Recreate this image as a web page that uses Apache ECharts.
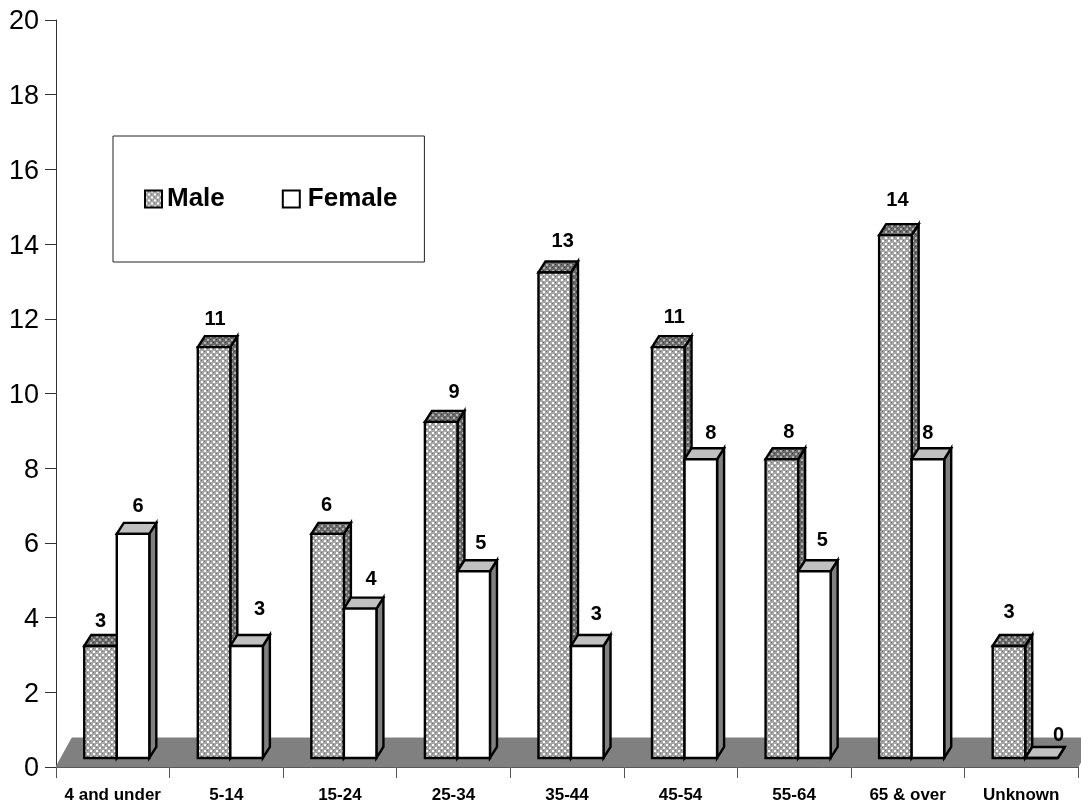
<!DOCTYPE html>
<html><head><meta charset="utf-8">
<style>html,body{margin:0;padding:0;background:#fff}#c{width:1081px;height:804px}</style>
<script src="https://cdn.jsdelivr.net/npm/echarts@6/dist/echarts.min.js"></script>
</head><body><div id="c"></div>
<script>
const categories = ['4 and under','5-14','15-24','25-34','35-44','45-54','55-64','65 & over','Unknown'];
const male   = [3,11,6,9,13,11,8,14,3];
const female = [6,3,4,5,3,8,5,8,0];
const yTickMax = 20, yTickStep = 2;
// hand-placed value-label nudges seen in the picture (px)
const maleNudgeX   = [0,1,-1,13,8,6,7,2,0];
const femaleNudgeX = [5,13,11,7,9,10,8,0,17];
const maleLift     = [24,28,28,29,31,30,27,35,33];
const femaleLift   = [27,36,29,28,31,26,31,26,23];

function tile(bg, dot, shade){
  const c=document.createElement('canvas');c.width=6;c.height=6;
  const g=c.getContext('2d');g.fillStyle=bg;g.fillRect(0,0,6,6);
  g.fillStyle=shade;
  [[3,0],[0,3]].forEach(p=>g.fillRect(p[0],p[1],1,1));
  g.fillStyle=dot;
  [[0,0],[3,3]].forEach(p=>{g.fillRect(p[0],p[1],2,2);});
  return c;
}
const patFront={image:tile('#a6a6a6','#ffffff','#6e6e6e'),repeat:'repeat'};
const patDark ={image:tile('#6a6a6a','#b4b4b4','#3a3a3a'),repeat:'repeat'};

const DX=7, DY=11, LIFT=9, SHIFT=4, BARFRAC=0.2865;
function barRenderer(isMale){
  return function(params,api){
    const i=api.value(0), v=api.value(1);
    const top=api.coord([i,v]), base=api.coord([i,0]), band=api.size([1,0])[0];
    const w=band*BARFRAC;
    const x0=top[0]+SHIFT+(isMale?-w:0), x1=x0+w;
    const y0=top[1]-LIFT, y1=base[1]-LIFT;
    const st={stroke:'#000',lineWidth:2.4,lineJoin:'miter'};
    const fFront=isMale?patFront:'#fff', fTop=isMale?patDark:'#c0c0c0', fSide=isMale?patDark:'#808080';
    const nx=(isMale?maleNudgeX:femaleNudgeX)[i], ly=(isMale?maleLift:femaleLift)[i];
    return {type:'group',children:[
      {type:'polygon',shape:{points:[[x1,y0],[x1+DX,y0-DY],[x1+DX,y1-DY],[x1,y1]]},style:Object.assign({fill:fSide},st)},
      {type:'polygon',shape:{points:[[x0,y0],[x0+DX,y0-DY],[x1+DX,y0-DY],[x1,y0]]},style:Object.assign({fill:fTop},st)},
      {type:'rect',shape:{x:x0,y:y0,width:w,height:y1-y0},style:Object.assign({fill:fFront},st)},
      {type:'text',style:{x:(x0+x1)/2+nx,y:y0-ly,text:String(v),fill:'#000',font:'bold 20px "Liberation Sans"',textAlign:'center',textVerticalAlign:'middle'}}
    ]};
  };
}
function floorRenderer(params,api){
  const s=params.coordSys;
  const y=s.y+s.height, back=y-29, d=16;
  return {type:'polygon',shape:{points:[[s.x,y],[s.x+d,back],[s.x+s.width+d,back],[s.x+s.width,y]]},
    style:{fill:'#808080',stroke:'#808080',lineWidth:1}};
}
const chart=echarts.init(document.getElementById('c'),null,{renderer:'canvas'});
chart.setOption({
  animation:false,
  backgroundColor:'#fff',
  legend:{
    left:113,top:136,orient:'horizontal',
    padding:[50,27,50,31],itemGap:57,itemWidth:17,itemHeight:17,
    backgroundColor:'#fff',borderColor:'#222',borderWidth:1,
    textStyle:{fontFamily:'Liberation Sans',fontWeight:'bold',fontSize:26,color:'#000'},
    data:[
      {name:'Male',icon:'rect',itemStyle:{color:patFront,borderColor:'#000',borderWidth:2}},
      {name:'Female',icon:'rect',itemStyle:{color:'#fff',borderColor:'#000',borderWidth:2},
       textStyle:{padding:[0,0,0,3]}}
    ]
  },
  grid:{left:56,top:20,width:1022,height:747,containLabel:false,outerBoundsMode:'none'},
  xAxis:{type:'category',data:categories,
    axisLine:{show:true,lineStyle:{color:'#333',width:1}},
    axisTick:{show:true,length:11,alignWithLabel:false,lineStyle:{color:'#555',width:1}},
    axisLabel:{interval:0,margin:20,fontFamily:'Liberation Sans',fontWeight:'bold',fontSize:17,color:'#000'},
    splitLine:{show:false}},
  yAxis:{type:'value',min:0,max:yTickMax,interval:yTickStep,
    axisLine:{show:true,lineStyle:{color:'#333',width:1}},
    axisTick:{show:true,length:11,lineStyle:{color:'#333',width:1}},
    axisLabel:{margin:17,fontFamily:'Liberation Sans',fontSize:27,color:'#000',verticalAlign:'top',lineHeight:4},
    splitLine:{show:false}},
  series:[
    {type:'custom',name:'floor',silent:true,z:1,clip:false,renderItem:floorRenderer,data:[[0,0]],encode:{x:0,y:1}},
    {type:'custom',name:'Male',z:2,clip:false,renderItem:barRenderer(true),itemStyle:{color:patFront},
      data:male.map((v,i)=>[i,v]),encode:{x:0,y:1}},
    {type:'custom',name:'Female',z:3,clip:false,renderItem:barRenderer(false),itemStyle:{color:'#fff'},
      data:female.map((v,i)=>[i,v]),encode:{x:0,y:1}}
  ]
});
</script></body></html>
